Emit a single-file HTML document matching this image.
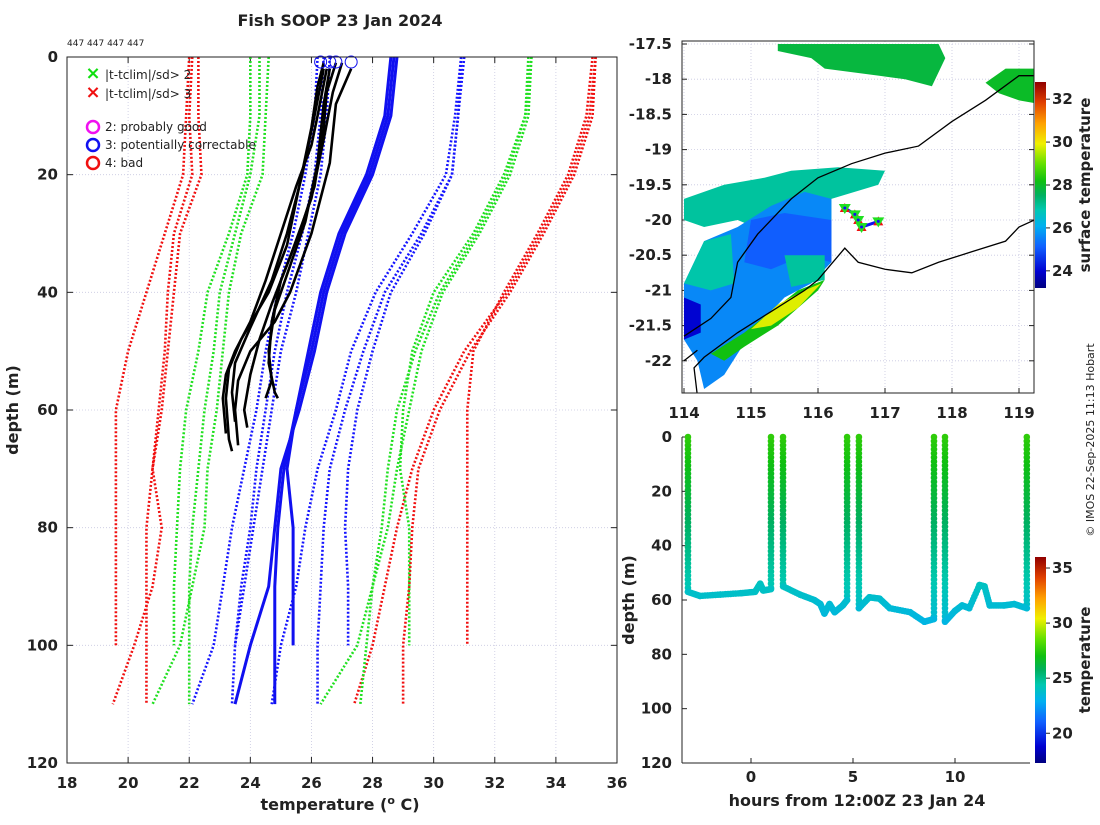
<!DOCTYPE html>
<html><head><meta charset="utf-8"><style>
body{margin:0;background:#fff;font-family:"Liberation Sans","DejaVu Sans",sans-serif}
svg text{font-family:"DejaVu Sans","Liberation Sans",sans-serif}
</style></head><body>
<svg id="s" width="1100" height="820" xmlns="http://www.w3.org/2000/svg"></svg>
<script>
// ---------- DATA ----------
const depthLevels=[0,10,20,30,40,50,60,70,80,90,100,110];
const climRed=[[22.0,21.9,21.8,21.2,20.6,20.0,19.6,19.6,19.6,19.6,19.6],[22.3,22.3,22.4,21.7,21.5,21.3,21.1,20.8,21.1,20.8,20.2,19.5],[22.1,22.0,22.1,21.5,21.3,21.2,21.0,20.8,20.6,20.6,20.6,20.6],[35.2,35.0,34.4,33.4,32.3,31.3,31.1,31.1,31.1,31.1,31.1],[35.3,35.2,34.6,33.6,32.5,31.2,30.2,29.5,29.3,29.2,29.0,29.0],[35.3,35.1,34.5,33.5,32.4,31.0,30.0,29.3,28.8,28.4,28.0,27.4]];
const climGreen=[[24.0,24.0,23.9,23.3,22.6,22.3,21.9,21.7,21.6,21.5,21.5],[24.3,24.3,24.0,23.5,23.0,22.8,22.5,22.3,22.1,22.0,22.0,22.0],[24.6,24.5,24.4,23.7,23.3,23.1,22.9,22.6,22.5,22.1,21.7,20.8],[33.1,33.0,32.3,31.3,30.0,29.3,29.0,28.9,29.2,29.2,29.2],[33.2,33.0,32.4,31.4,30.2,29.4,28.8,28.5,28.3,28.0,27.8,27.6],[33.2,33.1,32.5,31.5,30.3,29.6,29.2,28.8,28.5,28.0,27.5,26.3]];
const climBlueDot=[[26.2,26.1,25.8,25.4,24.9,24.5,24.2,23.8,23.4,23.1,22.8,22.1],[26.4,26.3,26.1,25.7,25.2,24.8,24.5,24.2,24.0,23.7,23.5,23.4],[26.6,26.5,26.3,25.9,25.5,25.0,24.7,24.4,24.1,23.8,23.5],[30.9,30.8,30.6,29.6,28.4,27.7,27.1,26.6,26.4,26.3,26.2,26.2],[30.9,30.7,30.4,29.3,28.1,27.3,26.8,26.2,25.8,25.5,25.0,24.7],[31.0,30.8,30.6,29.7,28.6,28.0,27.5,27.2,27.1,27.2,27.2]];
const climBlueSolid=[[28.6,28.4,27.8,26.9,26.3,25.9,25.5,25.2,25.4,25.4,25.4],[28.8,28.6,28.0,27.1,26.5,26.1,25.6,25.0,24.8,24.6,24.0,23.5],[28.7,28.5,27.9,27.0,26.4,26.0,25.5,25.1,24.9,24.8,24.8,24.8]];
const profTemps=[[26.4,26.2,26.0,25.6,25.2,24.6,23.7,23.3,23.2,23.3,23.4],[26.6,26.4,26.2,25.8,25.2,24.8,24.6,24.7,24.5],[27.3,26.8,26.6,26.0,25.3,24.8,24.0,23.6,23.5,23.6],[26.8,26.5,26.4,26.1,25.6,25.0,24.7,24.6,24.8,24.9],[26.5,26.2,26.0,25.5,25.0,24.5,24.0,23.5,23.2,23.1,23.2],[27.0,26.7,26.4,26.0,25.3,24.7,24.3,24.0,23.8,23.9],[26.4,26.1,25.7,25.2,24.7,24.0,23.5,23.4,23.5]];
const profDepths=[[1,5,12,22,32,40,48,53,58,65,67],[2,8,18,28,37,43,50,55,58],[2,8,18,30,40,45,50,55,60,66],[1,6,12,22,30,38,45,52,57,58],[2,10,15,22,30,38,45,50,54,58,64],[1,6,14,24,34,42,48,54,60,63],[2,10,20,30,38,46,52,57,62]];
const flagTemps=[26.3,26.8,27.3,26.6];
const segHours=[[-3.09,-2.5,-1.5,-0.5,0.2,0.45,0.6,0.98],[1.57,2.4,3.1,3.4,3.6,3.85,4.1,4.5,4.71],[5.29,5.8,6.3,6.8,7.8,8.5,8.97],[9.51,10.0,10.35,10.7,11.2,11.45,11.7,12.4,12.9,13.52]];
const segDepths=[[57,58.5,58,57.5,57,54,56.5,56],[55,58,60,61.5,65,61.5,64.5,62,60],[63,59,59.5,63,64.5,68,67],[68,64,62,63,54.5,55,62,62,61.5,63]];
const sstTicks=[24,26,28,30,32];
const tTicks=[20,25,30,35];
// ---------- helpers ----------
const S=document.getElementById('s');const NS='http://www.w3.org/2000/svg';
function el(t,a,p){const e=document.createElementNS(NS,t);for(const k in a)e.setAttribute(k,a[k]);(p||S).appendChild(e);return e;}
function txt(x,y,s,a,p){const e=el('text',Object.assign({x:x,y:y,'font-size':15,'font-weight':'bold',fill:'#222'},a||{}),p);e.textContent=s;return e;}
const CM=[[0,0,0,128],[0.08,0,0,208],[0.2,16,96,255],[0.3,0,176,240],[0.38,0,200,176],[0.45,0,176,96],[0.52,16,192,16],[0.6,96,224,0],[0.7,240,240,0],[0.8,255,160,0],[0.9,224,64,0],[1,144,0,0]];
function jet(v){v=Math.max(0,Math.min(1,v));for(let i=1;i<CM.length;i++){if(v<=CM[i][0]){const a=CM[i-1],b=CM[i],f=(v-a[0])/(b[0]-a[0]);return `rgb(${Math.round(a[1]+(b[1]-a[1])*f)},${Math.round(a[2]+(b[2]-a[2])*f)},${Math.round(a[3]+(b[3]-a[3])*f)})`;}}return 'rgb(144,0,0)';}
// ---------- left panel ----------
const L={x0:67,x1:617,y0:57,y1:763};
const tx=t=>L.x0+(t-18)/18*(L.x1-L.x0), dy=d=>L.y0+d/120*(L.y1-L.y0);
const gl=el('g',{});
for(let t=18;t<=36;t+=2){el('line',{x1:tx(t),x2:tx(t),y1:L.y0,y2:L.y1,stroke:'#c8c8e0','stroke-width':0.8,'stroke-dasharray':'1,2'},gl);
 const lb=txt(tx(t),788,String(t),{'text-anchor':'middle'},gl);
 el('line',{x1:tx(t),x2:tx(t),y1:L.y1,y2:L.y1-6,stroke:'#222'},gl);el('line',{x1:tx(t),x2:tx(t),y1:L.y0,y2:L.y0+6,stroke:'#222'},gl);}
for(let d=0;d<=120;d+=20){el('line',{x1:L.x0,x2:L.x1,y1:dy(d),y2:dy(d),stroke:'#c8c8e0','stroke-width':0.8,'stroke-dasharray':'1,2'},gl);
 const lb=txt(58,dy(d)+5,String(d),{'text-anchor':'end'},gl);
 el('line',{x1:L.x0,x2:L.x0+6,y1:dy(d),y2:dy(d),stroke:'#222'},gl);el('line',{x1:L.x1,x2:L.x1-6,y1:dy(d),y2:dy(d),stroke:'#222'},gl);}
function drawSet(set,col,w,dash,name){set.forEach(a=>{const pts=a.map((t,i)=>tx(t)+','+dy(depthLevels[i])).join(' ');const p=el('polyline',{points:pts,fill:'none',stroke:col,'stroke-width':w,'stroke-dasharray':dash},gl);});}
drawSet(climRed,'#f01010',2.6,'2,2','climatology-3sd');
drawSet(climGreen,'#20e020',2.6,'2,2','climatology-2sd');
drawSet(climBlueDot,'#1515ff',2.6,'2,2','climatology-sd');
drawSet(climBlueSolid,'#1010f0',3,'','climatology-mean');
profTemps.forEach((a,k)=>{const pts=a.map((t,i)=>tx(t)+','+dy(profDepths[k][i])).join(' ');const p=el('polyline',{points:pts,fill:'none',stroke:'#000','stroke-width':2.6},gl);});
flagTemps.forEach(t=>{const c=el('circle',{cx:tx(t),cy:62,r:6,fill:'none',stroke:'#1010f0','stroke-width':1},gl);});
el('rect',{x:L.x0,y:L.y0,width:L.x1-L.x0,height:L.y1-L.y0,fill:'none',stroke:'#222','stroke-width':1},gl);
const tl=txt(340,26,'Fish SOOP 23 Jan 2024',{'text-anchor':'middle','font-size':16});
const ids=txt(67,46,'447 447 447 447',{'font-size':9,'font-weight':'normal'});
const xt=txt(340,810,'',{'text-anchor':'middle','font-size':16});
const a1=el('tspan',{},xt);a1.textContent='temperature (';const a2=el('tspan',{dy:-6,'font-size':11},xt);a2.textContent='o';const a3=el('tspan',{dy:6},xt);a3.textContent=' C)';
const yt=txt(18,410,'depth (m)',{'text-anchor':'middle','font-size':16,transform:'rotate(-90 18 410)'});
// legend
const lg=el('g',{});
[['×','#10e010','|t-tclim|/sd> 2',76],['×','#f01010','|t-tclim|/sd> 3',95]].forEach(r=>{txt(93,r[3]+3,r[0],{'text-anchor':'middle',fill:r[1],'font-size':18},lg);const e=txt(105,r[3]+3,r[2],{'font-weight':'normal','font-size':12},lg);});
[['#f010f0','2: probably good',127],['#1010f0','3: potentially correctable',145],['#f01010','4: bad',163]].forEach(r=>{el('circle',{cx:93,cy:r[2],r:6,fill:'none',stroke:r[0],'stroke-width':2.5},lg);const e=txt(105,r[2]+4,r[1],{'font-weight':'normal','font-size':12},lg);});
// ---------- map ----------
const M={x0:682,x1:1034,y0:41,y1:393};
const mx=lo=>684+(lo-114)*67, my=la=>44+(-17.5-la)*70.4;
const gm=el('g',{});
el('clipPath',{id:'mc'},gm);el('rect',{x:M.x0,y:M.y0,width:M.x1-M.x0,height:M.y1-M.y0},document.getElementById('mc'));
for(let lo=114;lo<=119;lo++){el('line',{x1:mx(lo),x2:mx(lo),y1:M.y0,y2:M.y1,stroke:'#c8c8e0','stroke-width':0.8,'stroke-dasharray':'1,2'},gm);txt(mx(lo),418,String(lo),{'text-anchor':'middle'},gm);el('line',{x1:mx(lo),x2:mx(lo),y1:M.y1,y2:M.y1-5,stroke:'#222'},gm);}
for(let la=-17.5;la>=-22;la-=0.5){el('line',{x1:M.x0,x2:M.x1,y1:my(la),y2:my(la),stroke:'#c8c8e0','stroke-width':0.8,'stroke-dasharray':'1,2'},gm);txt(672,my(la)+5,String(la),{'text-anchor':'end'},gm);el('line',{x1:M.x0,x2:M.x0+5,y1:my(la),y2:my(la),stroke:'#222'},gm);el('line',{x1:M.x1,x2:M.x1-5,y1:my(la),y2:my(la),stroke:'#222'},gm);}
const gc=el('g',{'clip-path':'url(#mc)'},gm);
const sstPatches=[
 [27.8,[[115.4,-17.5],[117.8,-17.5],[117.9,-17.7],[117.7,-18.1],[117.3,-18.0],[116.9,-17.95],[116.1,-17.85],[115.9,-17.7],[115.4,-17.6]]],
 [28.0,[[118.5,-18.05],[118.8,-17.85],[119.3,-17.85],[119.3,-18.35],[119.0,-18.3],[118.7,-18.2]]],
 [27.0,[[114,-19.7],[114.6,-19.5],[115.2,-19.4],[115.6,-19.3],[116.3,-19.25],[117.0,-19.3],[116.9,-19.5],[116.2,-19.7],[116.2,-20.3],[115.3,-20.2],[114.8,-20.0],[114.3,-20.1],[114,-20.0]]],
 [25.6,[[114,-20.9],[114.3,-20.3],[114.8,-20.1],[115.3,-19.8],[115.8,-19.6],[116.2,-19.7],[116.2,-20.6],[115.9,-20.9],[115.5,-21.1],[115.0,-21.6],[114.6,-22.2],[114.3,-22.4],[114.2,-22.0],[114,-21.7]]],
 [25.1,[[115.0,-20.0],[115.5,-19.9],[116.2,-20.0],[116.2,-20.6],[115.8,-20.5],[115.3,-20.7],[114.9,-20.6]]],
 [26.9,[[114,-20.9],[114.3,-20.3],[114.7,-20.2],[114.75,-20.9],[114.4,-21.0]]],
 [27.0,[[115.5,-20.5],[116.1,-20.5],[116.1,-20.85],[115.6,-20.95]]],
 [24.0,[[114,-21.1],[114.25,-21.2],[114.25,-21.6],[114,-21.7]]],
 [28.2,[[114.4,-21.9],[114.9,-21.6],[115.3,-21.3],[115.7,-21.0],[116.1,-20.85],[116.0,-21.0],[115.4,-21.5],[114.9,-21.8],[114.6,-22.0]]],
 [29.8,[[115.0,-21.55],[115.4,-21.2],[115.8,-21.0],[116.05,-20.9],[115.7,-21.25],[115.3,-21.5]]],
];
sstPatches.forEach(p=>{const e=el('polygon',{points:p[1].map(q=>mx(q[0])+','+my(q[1])).join(' '),fill:jet((p[0]-23.2)/(32.8-23.2))},gc);});
const shelf=[[114,-21.65],[114.4,-21.4],[114.7,-21.1],[114.8,-20.6],[115.1,-20.2],[115.4,-19.9],[115.6,-19.7],[116,-19.4],[116.5,-19.2],[117,-19.05],[117.5,-18.95],[118,-18.6],[118.5,-18.3],[119,-17.95],[119.3,-17.95]];
const coast=[[114.2,-22.5],[114.15,-22.1],[114.3,-21.95],[114.8,-21.6],[115.3,-21.3],[115.8,-21.0],[116.0,-20.85],[116.4,-20.4],[116.6,-20.6],[117,-20.7],[117.4,-20.75],[117.8,-20.6],[118.3,-20.45],[118.8,-20.3],[119,-20.1],[119.3,-19.97]];
const coast2=[[114,-22.0],[114.2,-21.85]];
[shelf,coast,coast2].forEach(c=>el('polyline',{points:c.map(q=>mx(q[0])+','+my(q[1])).join(' '),fill:'none',stroke:'#000','stroke-width':1.3},gc));
const trackLon=[116.4,116.55,116.6,116.65,116.9], trackLat=[-19.83,-19.92,-20.0,-20.1,-20.02];
el('polyline',{points:trackLon.map((l,i)=>mx(l)+','+my(trackLat[i])).join(' '),fill:'none',stroke:'#1010f0','stroke-width':3},gc);
trackLon.forEach((l,i)=>{const x=mx(l),y=my(trackLat[i]);el('polygon',{points:`${x-5},${y+4} ${x+5},${y+4} ${x},${y-5}`,fill:'#f01010'},gc);const t=el('polygon',{points:`${x-6},${y-4} ${x+6},${y-4} ${x},${y+6}`,fill:'#20e020'},gc);el('circle',{cx:x,cy:y,r:1.5,fill:'#1010f0'},gc);});
el('rect',{x:M.x0,y:M.y0,width:M.x1-M.x0,height:M.y1-M.y0,fill:'none',stroke:'#222'},gm);
// colorbars
function cbar(x,y0,y1,name,id){const g=el('linearGradient',{id:id,x1:0,y1:1,x2:0,y2:0},S);CM.forEach(c=>el('stop',{offset:c[0],'stop-color':`rgb(${c[1]},${c[2]},${c[3]})`},g));const r=el('rect',{x:x,y:y0,width:11,height:y1-y0,fill:`url(#${id})`});}
cbar(1035,82,288,'sst-colorbar','g1');
sstTicks.forEach(v=>{const y=288-(v-23.2)/(32.8-23.2)*206;el('line',{x1:1046,x2:1050,y1:y,y2:y,stroke:'#222'});txt(1052,y+5,String(v),{})});
const st=txt(1090,185,'surface temperature',{'text-anchor':'middle',transform:'rotate(-90 1090 185)'});
// ---------- time-depth panel ----------
const B={x0:682,x1:1030,y0:437,y1:763};
const hx=h=>751+h*20.4, by=d=>B.y0+d/120*(B.y1-B.y0);
const gb=el('g',{});
[0,5,10].forEach(h=>{txt(hx(h),782,String(h),{'text-anchor':'middle'},gb);el('line',{x1:hx(h),x2:hx(h),y1:B.y1,y2:B.y1-5,stroke:'#222'},gb);});
[0,20,40,60,80,100,120].forEach(d=>{txt(672,by(d)+5,String(d),{'text-anchor':'end'},gb);el('line',{x1:B.x0,x2:B.x0+5,y1:by(d),y2:by(d),stroke:'#222'},gb);});
const TN=17.3,TX=36;
const tcol=d=>jet((27.6-d/60*3.6-TN)/(TX-TN));
segHours.forEach((hs,k)=>{const sh=[[hs[0],segDepths[k][0]],[hs[hs.length-1],segDepths[k][hs.length-1]]];sh.forEach(q=>{for(let d=0;d<=q[1];d+=1.5)el('circle',{cx:hx(q[0]),cy:by(d),r:3.3,fill:tcol(d)},gb);});
 for(let i=0;i<hs.length-1;i++){const n=8;for(let j=0;j<=n;j++){const h=hs[i]+(hs[i+1]-hs[i])*j/n,d=segDepths[k][i]+(segDepths[k][i+1]-segDepths[k][i])*j/n;el('circle',{cx:hx(h),cy:by(d),r:3.3,fill:jet((24.0-(d-55)*0.06-TN)/(TX-TN))},gb);}}});
el('line',{x1:B.x0,x2:B.x0,y1:B.y0,y2:B.y1,stroke:'#222'},gb);el('line',{x1:B.x0,x2:B.x1,y1:B.y1,y2:B.y1,stroke:'#222'},gb);
const bx=txt(857,806,'hours from 12:00Z 23 Jan 24',{'text-anchor':'middle','font-size':16},gb);
const byt=txt(634,600,'depth (m)',{'text-anchor':'middle','font-size':16,transform:'rotate(-90 634 600)'},gb);
cbar(1035,557,763,'temperature-colorbar','g2');
tTicks.forEach(v=>{const y=763-(v-TN)/(TX-TN)*206;el('line',{x1:1046,x2:1050,y1:y,y2:y,stroke:'#222'});txt(1052,y+5,String(v),{})});
const tt=txt(1090,660,'temperature',{'text-anchor':'middle',transform:'rotate(-90 1090 660)'});
const cp=txt(1094,440,'© IMOS 22-Sep-2025 11:13 Hobart',{'text-anchor':'middle','font-size':11,'font-weight':'normal',transform:'rotate(-90 1094 440)'});
</script>
</body></html>
